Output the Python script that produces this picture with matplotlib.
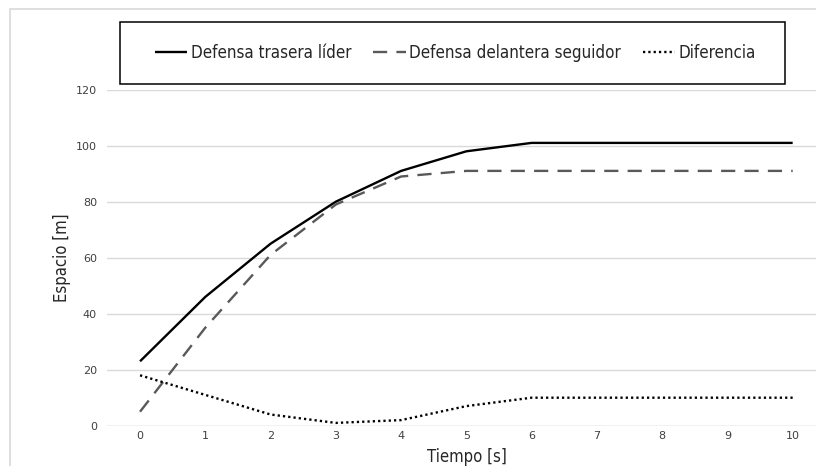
import matplotlib
matplotlib.use("Agg")
import matplotlib.pyplot as plt
from matplotlib.patches import Rectangle

# data
tiempo = [0, 1, 2, 3, 4, 5, 6, 7, 8, 9, 10]
lider = [23, 46, 65, 80, 91, 98, 101, 101, 101, 101, 101]
seguidor = [5, 35, 61, 79, 89, 91, 91, 91, 91, 91, 91]
diferencia = [18, 11, 4, 1, 2, 7, 10, 10, 10, 10, 10]
y_ticks = [0, 20, 40, 60, 80, 100, 120]
nombres = ["Defensa trasera líder", "Defensa delantera seguidor", "Diferencia"]

W, H = 816, 466
title_font = {"family": "DejaVu Sans", "stretch": "condensed", "size": 12}

fig = plt.figure(figsize=(W / 100, H / 100), dpi=100)

# light outer chart frame (only top and left edges visible)
fig.patches.append(Rectangle((9.5 / W, -0.1), 1.2, 1 - 8.5 / H + 0.1,
                             transform=fig.transFigure, fill=False,
                             edgecolor="#d9d9d9", linewidth=1.2))

ax = fig.add_axes([107.4 / W, 1 - 425.7 / H, (825.3 - 107.4) / W, 336 / H])
ax.set_xlim(-0.5, 10.5)
ax.set_ylim(0, 120)

for s in ax.spines.values():
    s.set_visible(False)
ax.yaxis.grid(True, color="#d9d9d9", linewidth=1.0)
ax.set_axisbelow(True)
ax.axhline(0, color="#d9d9d9", linewidth=1.0, zorder=1)

ax.set_xticks(tiempo)
ax.set_yticks(y_ticks)
ax.tick_params(length=0, labelsize=8, labelcolor="#404040")
ax.tick_params(axis="y", pad=7.5)
ax.tick_params(axis="x", pad=4)

lw = 1.7
ax.plot(tiempo, lider, color="black", linewidth=lw, solid_capstyle="butt",
        label=nombres[0])
ax.plot(tiempo, seguidor, color="#595959", linewidth=lw,
        dashes=(6, 3.9), dash_capstyle="butt", label=nombres[1])
ax.plot(tiempo, diferencia, color="black", linewidth=lw,
        dashes=(0.95, 1.3), dash_capstyle="butt", label=nombres[2])

ax.set_xlabel("Tiempo [s]", fontdict=title_font, color="#262626", va="center")
ax.xaxis.set_label_coords((466.7 - 107.4) / 717.9, -(456.7 - 425.7) / 336)
ax.set_ylabel("Espacio [m]", fontdict=title_font, color="#262626", va="center")
ax.yaxis.set_label_coords((62 - 107.4) / 717.9, 0.5)

# legend box drawn separately, legend itself without frame
fig.patches.append(Rectangle((120 / W, 1 - 84 / H), (785 - 120) / W, 62 / H,
                             transform=fig.transFigure, fill=False,
                             edgecolor="black", linewidth=1.1))
handles, labels = ax.get_legend_handles_labels()
leg = fig.legend(handles, labels, loc="center",
                 bbox_to_anchor=(455.5 / W, 1 - 53 / H), ncol=3,
                 frameon=False, handlelength=1.9, handletextpad=0.2,
                 columnspacing=1.3,
                 prop={"family": "DejaVu Sans", "stretch": "condensed",
                       "size": 12.2})
for t in leg.get_texts():
    t.set_color("#262626")

fig.savefig("out.png", dpi=100)
